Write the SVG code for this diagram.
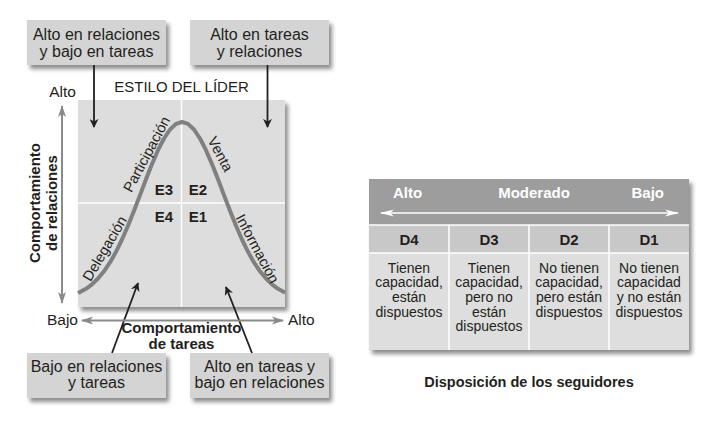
<svg xmlns="http://www.w3.org/2000/svg" width="709" height="422" viewBox="0 0 709 422">
<style>
text{font-family:"Liberation Sans",Arial,sans-serif;fill:#231f20}
.bx{fill:#d4d4d4}
.bt{font-size:16px;text-anchor:middle}
.ax{font-size:15.5px}
.b{font-weight:bold}
.cl{font-size:14.5px;text-anchor:middle}
.tb{font-size:14px;text-anchor:middle}
.th{font-size:15px;font-weight:bold;fill:#fff}
.dl{font-size:15px;font-weight:bold;text-anchor:middle}
.conn{stroke:#231f20;stroke-width:1.8;fill:none;marker-end:url(#ah)}
.axl{stroke:#8a8a8a;stroke-width:2;fill:none;marker-start:url(#ag);marker-end:url(#ag)}
</style>
<defs>
<filter id="sh" x="-10%" y="-10%" width="130%" height="140%">
<feDropShadow dx="3" dy="4" stdDeviation="2" flood-color="#000" flood-opacity="0.45"/>
</filter>
<marker id="ah" viewBox="0 0 10 10" refX="9" refY="5" markerWidth="9" markerHeight="9" markerUnits="userSpaceOnUse" orient="auto"><path d="M0,0 L10,5 L0,10 L3,5 z" fill="#231f20"/></marker>
<marker id="ag" viewBox="0 0 12 10" refX="11" refY="5" markerWidth="12" markerHeight="10" markerUnits="userSpaceOnUse" orient="auto-start-reverse"><path d="M0,1 L12,5 L0,9 L3,5 z" fill="#8a8a8a"/></marker>
<marker id="aw" viewBox="0 0 14 8" refX="13" refY="4" markerWidth="14" markerHeight="8" markerUnits="userSpaceOnUse" orient="auto-start-reverse"><path d="M0,0.5 L14,4 L0,7.5 L4,4 z" fill="#fff"/></marker>
</defs>

<g id="chart">
<rect x="78" y="100" width="207" height="207" fill="#dddddd" filter="url(#sh)"/>
<line x1="181.5" y1="100" x2="181.5" y2="307" stroke="#fff" stroke-width="1.5"/>
<line x1="78" y1="203" x2="285" y2="203" stroke="#fff" stroke-width="1.5"/>
<polyline fill="none" stroke="#808080" stroke-width="4" stroke-linejoin="round" points="78,293 80,292.1 86,288.8 92,284.3 98,278.5 104,271.3 110,262.4 116,251.8 122,239.5 128,225.7 134,210.8 140,195.1 146,179.3 152,164.1 158,150.2 164,138.5 170,129.5 176,123.9 182,122 188,123.9 194,129.5 200,138.5 206,150.2 212,164.1 218,179.3 224,195.1 230,210.8 236,225.7 242,239.5 248,251.8 254,262.4 260,271.3 266,278.5 272,284.3 278,288.8 284,292.1 285,292.6"/>
<text class="cl" transform="translate(151,156.5) rotate(-62)">Participación</text>
<text class="cl" transform="translate(216,156.5) rotate(62)">Venta</text>
<text class="cl" transform="translate(109,251) rotate(-59.5)">Delegación</text>
<text class="cl" transform="translate(253,251) rotate(62)">Información</text>
<text class="dl" x="164" y="195">E3</text>
<text class="dl" x="198" y="195">E2</text>
<text class="dl" x="164" y="222">E4</text>
<text class="dl" x="198" y="222">E1</text>
<text x="181.5" y="92" font-size="15" text-anchor="middle">ESTILO DEL LÍDER</text>
<text class="ax" x="62.5" y="97" text-anchor="middle">Alto</text>
<text class="ax" x="78" y="325" text-anchor="end">Bajo</text>
<text class="ax" x="288" y="325">Alto</text>
<text class="b" font-size="15" text-anchor="middle" x="181.5" y="333">Comportamiento</text>
<text class="b" font-size="15" text-anchor="middle" x="181.5" y="349">de tareas</text>
<text class="b" font-size="15" text-anchor="middle" transform="translate(40,203) rotate(-90)">Comportamiento</text>
<text class="b" font-size="15" text-anchor="middle" transform="translate(57,203) rotate(-90)">de relaciones</text>
</g>

<g id="box-tl">
<rect class="bx" x="27" y="20" width="139" height="45" filter="url(#sh)"/>
<text class="bt" x="96.5" y="40">Alto en relaciones</text>
<text class="bt" x="96.5" y="57">y bajo en tareas</text>
</g>
<g id="box-tr">
<rect class="bx" x="190" y="20" width="139" height="45" filter="url(#sh)"/>
<text class="bt" x="259.5" y="40">Alto en tareas</text>
<text class="bt" x="259.5" y="57">y relaciones</text>
</g>
<g id="box-bl">
<rect class="bx" x="27" y="353" width="139" height="45" filter="url(#sh)"/>
<text class="bt" x="96.5" y="372">Bajo en relaciones</text>
<text class="bt" x="96.5" y="388">y tareas</text>
</g>
<g id="box-br">
<rect class="bx" x="190" y="353" width="139" height="45" filter="url(#sh)"/>
<text class="bt" x="259.5" y="372">Alto en tareas y</text>
<text class="bt" x="259.5" y="388">bajo en relaciones</text>
</g>

<g id="connectors">
<line class="conn" x1="94" y1="65" x2="94" y2="127"/>
<line class="conn" x1="267.5" y1="65" x2="267.5" y2="127"/>
<line class="conn" x1="112" y1="353" x2="138" y2="283"/>
<line class="conn" x1="252" y1="353" x2="226" y2="287"/>
<line class="axl" x1="62" y1="303" x2="62" y2="106"/>
<line class="axl" x1="82" y1="320.5" x2="283" y2="320.5"/>
</g>

<g id="table">
<rect x="369" y="179" width="320" height="171" fill="#dedede" filter="url(#sh)"/>
<rect x="369" y="179" width="320" height="46" fill="#9d9d9d"/>
<rect x="369" y="225" width="320" height="28" fill="#c8c8c8"/>
<g stroke="#fff" stroke-width="1.5">
<line x1="369" y1="225" x2="689" y2="225"/>
<line x1="369" y1="253" x2="689" y2="253"/>
<line x1="449" y1="225" x2="449" y2="350"/>
<line x1="529" y1="225" x2="529" y2="350"/>
<line x1="609" y1="225" x2="609" y2="350"/>
</g>
<text class="th" x="393" y="198">Alto</text>
<text class="th" x="534" y="198" text-anchor="middle">Moderado</text>
<text class="th" x="664" y="198" text-anchor="end">Bajo</text>
<line x1="381" y1="213" x2="678" y2="213" stroke="#fff" stroke-width="1.5" marker-start="url(#aw)" marker-end="url(#aw)"/>
<text class="dl" x="409" y="245">D4</text>
<text class="dl" x="489" y="245">D3</text>
<text class="dl" x="569" y="245">D2</text>
<text class="dl" x="649" y="245">D1</text>
<text class="tb" x="409" y="272.5">Tienen</text>
<text class="tb" x="409" y="287.2">capacidad,</text>
<text class="tb" x="409" y="301.9">están</text>
<text class="tb" x="409" y="316.6">dispuestos</text>
<text class="tb" x="489" y="272.5">Tienen</text>
<text class="tb" x="489" y="287.2">capacidad,</text>
<text class="tb" x="489" y="301.9">pero no</text>
<text class="tb" x="489" y="316.6">están</text>
<text class="tb" x="489" y="331.3">dispuestos</text>
<text class="tb" x="569" y="272.5">No tienen</text>
<text class="tb" x="569" y="287.2">capacidad,</text>
<text class="tb" x="569" y="301.9">pero están</text>
<text class="tb" x="569" y="316.6">dispuestos</text>
<text class="tb" x="649" y="272.5">No tienen</text>
<text class="tb" x="649" y="287.2">capacidad</text>
<text class="tb" x="649" y="301.9">y no están</text>
<text class="tb" x="649" y="316.6">dispuestos</text>
<text class="b" font-size="14.5" text-anchor="middle" x="529" y="387">Disposición de los seguidores</text>
</g>
</svg>
